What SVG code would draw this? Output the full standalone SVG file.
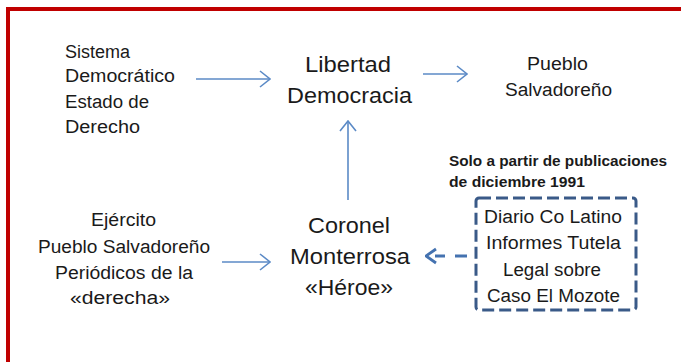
<svg xmlns="http://www.w3.org/2000/svg" width="681" height="362" viewBox="0 0 681 362">
<defs>
<marker id="open" viewBox="0 0 12 18" refX="11" refY="9" markerWidth="12" markerHeight="18" markerUnits="userSpaceOnUse" orient="auto">
<path d="M1,1 L11,9 L1,17" fill="none" stroke="#5b8ac6" stroke-width="1.6"/>
</marker>
<marker id="openDark" viewBox="0 0 12 18" refX="2" refY="9" markerWidth="12" markerHeight="18" markerUnits="userSpaceOnUse" orient="auto">
<path d="M1,2 L11,9 L1,16" fill="none" stroke="#4472b0" stroke-width="2.8"/>
</marker>
</defs>
<style>
text{font-family:"Liberation Sans",Arial,sans-serif;fill:#1a1a1a;}
.s{font-size:18px;}
.l{font-size:22.5px;}
.b{font-size:14px;font-weight:bold;}
.arr{stroke:#5b8ac6;stroke-width:1.6;fill:none;marker-end:url(#open);}
</style>
<rect x="0" y="0" width="681" height="362" fill="#ffffff"/>
<rect id="frame" x="8" y="9" width="700" height="400" fill="none" stroke="#c00000" stroke-width="4"/>
<g id="connectors">
<line class="arr" x1="196" y1="79" x2="270" y2="79"/>
<line class="arr" x1="423" y1="74" x2="467" y2="74"/>
<line class="arr" x1="348" y1="200" x2="348" y2="121"/>
<line class="arr" x1="222" y1="262" x2="270" y2="262"/>
<line x1="467" y1="256" x2="435" y2="256" stroke="#4472b0" stroke-width="2.8" stroke-dasharray="12 10" marker-end="url(#openDark)"/>
</g>
<g id="sistema">
<text class="s" x="65" y="58" textLength="65" lengthAdjust="spacingAndGlyphs">Sistema</text>
<text class="s" x="65" y="82" textLength="110" lengthAdjust="spacingAndGlyphs">Democrático</text>
<text class="s" x="65" y="108" textLength="84" lengthAdjust="spacingAndGlyphs">Estado de</text>
<text class="s" x="65" y="133" textLength="75" lengthAdjust="spacingAndGlyphs">Derecho</text>
</g>
<g id="libertad">
<text class="l" x="305" y="72" textLength="86" lengthAdjust="spacingAndGlyphs">Libertad</text>
<text class="l" x="287" y="103" textLength="125" lengthAdjust="spacingAndGlyphs">Democracia</text>
</g>
<g id="pueblo">
<text class="s" x="527" y="70" textLength="61" lengthAdjust="spacingAndGlyphs">Pueblo</text>
<text class="s" x="505" y="96" textLength="107" lengthAdjust="spacingAndGlyphs">Salvadoreño</text>
</g>
<g id="ejercito">
<text class="s" x="91" y="226" textLength="65" lengthAdjust="spacingAndGlyphs">Ejército</text>
<text class="s" x="38" y="253" textLength="172" lengthAdjust="spacingAndGlyphs">Pueblo Salvadoreño</text>
<text class="s" x="55" y="279" textLength="138" lengthAdjust="spacingAndGlyphs">Periódicos de la</text>
<text class="s" x="70" y="304" textLength="100" lengthAdjust="spacingAndGlyphs">«derecha»</text>
</g>
<g id="coronel">
<text class="l" x="308" y="233" textLength="82" lengthAdjust="spacingAndGlyphs">Coronel</text>
<text class="l" x="290" y="264" textLength="120" lengthAdjust="spacingAndGlyphs">Monterrosa</text>
<text class="l" x="305" y="295" textLength="88" lengthAdjust="spacingAndGlyphs">«Héroe»</text>
</g>
<g id="nota">
<text class="b" x="449" y="166" textLength="218" lengthAdjust="spacingAndGlyphs">Solo a partir de publicaciones</text>
<text class="b" x="449" y="187" textLength="136" lengthAdjust="spacingAndGlyphs">de diciembre 1991</text>
</g>
<g id="fuentes">
<rect x="476" y="198" width="160" height="112" rx="3" fill="none" stroke="#3a5a88" stroke-width="3" stroke-dasharray="12 5"/>
<text class="s" x="484" y="223" textLength="138" lengthAdjust="spacingAndGlyphs">Diario Co Latino</text>
<text class="s" x="486" y="249" textLength="135" lengthAdjust="spacingAndGlyphs">Informes Tutela</text>
<text class="s" x="503" y="276" textLength="98" lengthAdjust="spacingAndGlyphs">Legal sobre</text>
<text class="s" x="487" y="302" textLength="133" lengthAdjust="spacingAndGlyphs">Caso El Mozote</text>
</g>
</svg>
